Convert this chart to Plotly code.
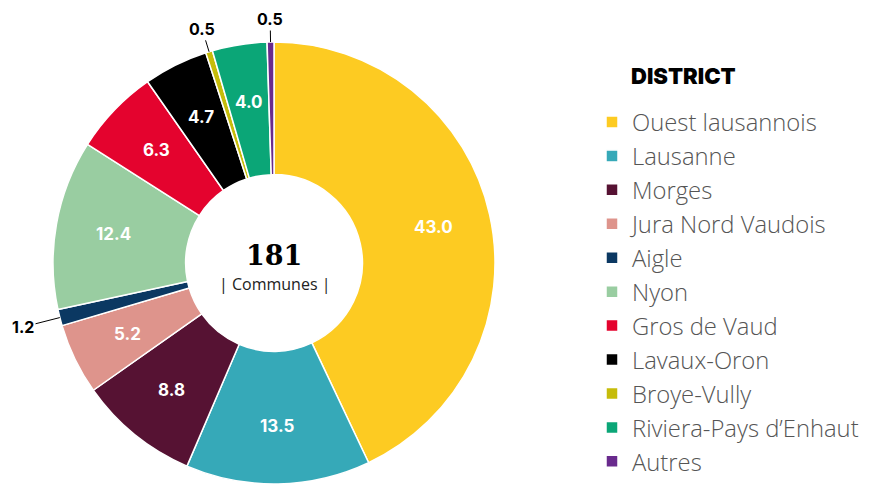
import math
import plotly.graph_objects as go

labels = ["Ouest lausannois", "Lausanne", "Morges", "Jura Nord Vaudois", "Aigle", "Nyon",
          "Gros de Vaud", "Lavaux-Oron", "Broye-Vully", "Riviera-Pays d’Enhaut", "Autres"]
values = [43.0, 13.5, 8.8, 5.2, 1.2, 12.4, 6.3, 4.7, 0.5, 4.0, 0.5]
colors = ["#FDCB22", "#36A9B8", "#561233", "#DE948C", "#0B3862", "#99CDA1",
          "#E4032E", "#000000", "#C6BC0A", "#0BA677", "#692A8D"]
outside_labels = ["Aigle", "Broye-Vully", "Autres"]
center_value = "181"
center_label = "| Communes |"

OFF = 8  # page body margin
W, H = 878 - OFF, 484 - OFF
cx, cy, R = 274.0 - OFF, 263.0 - OFF, 221.0  # pixel geometry of the donut (figure coords)
HOLE = 0.40
LABEL_R = 163.0
dom_x = [(cx - R) / W, (cx + R) / W]
dom_y = [max(0.0, (H - cy - R) / H), min(1.0, (H - cy + R) / H)]


def px(x):
    return (x - OFF) / W


def py(y):
    return (H - (y - OFF)) / H


fig = go.Figure(go.Pie(
    labels=labels, values=values, sort=False, direction="clockwise", rotation=0,
    hole=HOLE,
    marker=dict(colors=colors, line=dict(color="white", width=1.5)),
    textinfo="none",
    domain=dict(x=dom_x, y=dom_y),
    hoverinfo="label+value",
))

# value labels, positioned from slice mid-angles
total = sum(values)
cum = 0.0
offsets = {"Aigle": 38, "Broye-Vully": 24, "Autres": 23}
for l, v in zip(labels, values):
    mid = (cum + v / 2) / total * 2 * math.pi
    cum += v
    sx, sy = math.sin(mid), math.cos(mid)
    if l not in outside_labels:
        lx = cx + LABEL_R * sx
        ly = cy - LABEL_R * sy
        fig.add_annotation(
            x=lx / W, y=(H - ly) / H, xref="paper", yref="paper",
            xanchor="center", yanchor="middle",
            text=f"{v:.1f}", showarrow=False,
            font=dict(family="Inter", size=17, color="white", weight="bold"),
        )
        continue
    ex = cx + R * sx
    ey = cy - R * sy
    d = offsets[l]
    fig.add_annotation(
        x=ex / W, y=(H - ey) / H, xref="paper", yref="paper",
        ax=d * sx, ay=-d * sy, axref="pixel", ayref="pixel",
        text=f"{v:.1f}", showarrow=True, arrowhead=0, arrowwidth=1, arrowcolor="black",
        font=dict(family="Inter", size=16, color="black", weight="bold"),
        standoff=0, startstandoff=0,
    )

fig.add_annotation(x=px(274), y=py(256), xref="paper", yref="paper",
                   text=center_value, showarrow=False, xanchor="center", yanchor="middle",
                   font=dict(family="DejaVu Serif", size=27, color="black", weight="bold"))
fig.add_annotation(x=px(274), y=py(284), xref="paper", yref="paper",
                   text=center_label, showarrow=False, xanchor="center", yanchor="middle",
                   font=dict(family="Open Sans", size=16, color="#222"))
fig.add_annotation(x=px(629), y=py(76), xref="paper", yref="paper",
                   text="DISTRICT", showarrow=False, xanchor="left", yanchor="middle",
                   font=dict(family="Inter", size=22, color="black", weight=900))

fig.update_layout(
    width=W, height=H, margin=dict(l=0, r=0, t=0, b=0, autoexpand=False),
    paper_bgcolor="white", plot_bgcolor="white",
    showlegend=True,
    legend=dict(x=px(592), y=py(100), xanchor="left", yanchor="top",
                font=dict(family="Open Sans", size=23.8, color="#555", weight=300),
                itemwidth=30, bgcolor="rgba(0,0,0,0)"),
)

fig.write_html("out.html")
